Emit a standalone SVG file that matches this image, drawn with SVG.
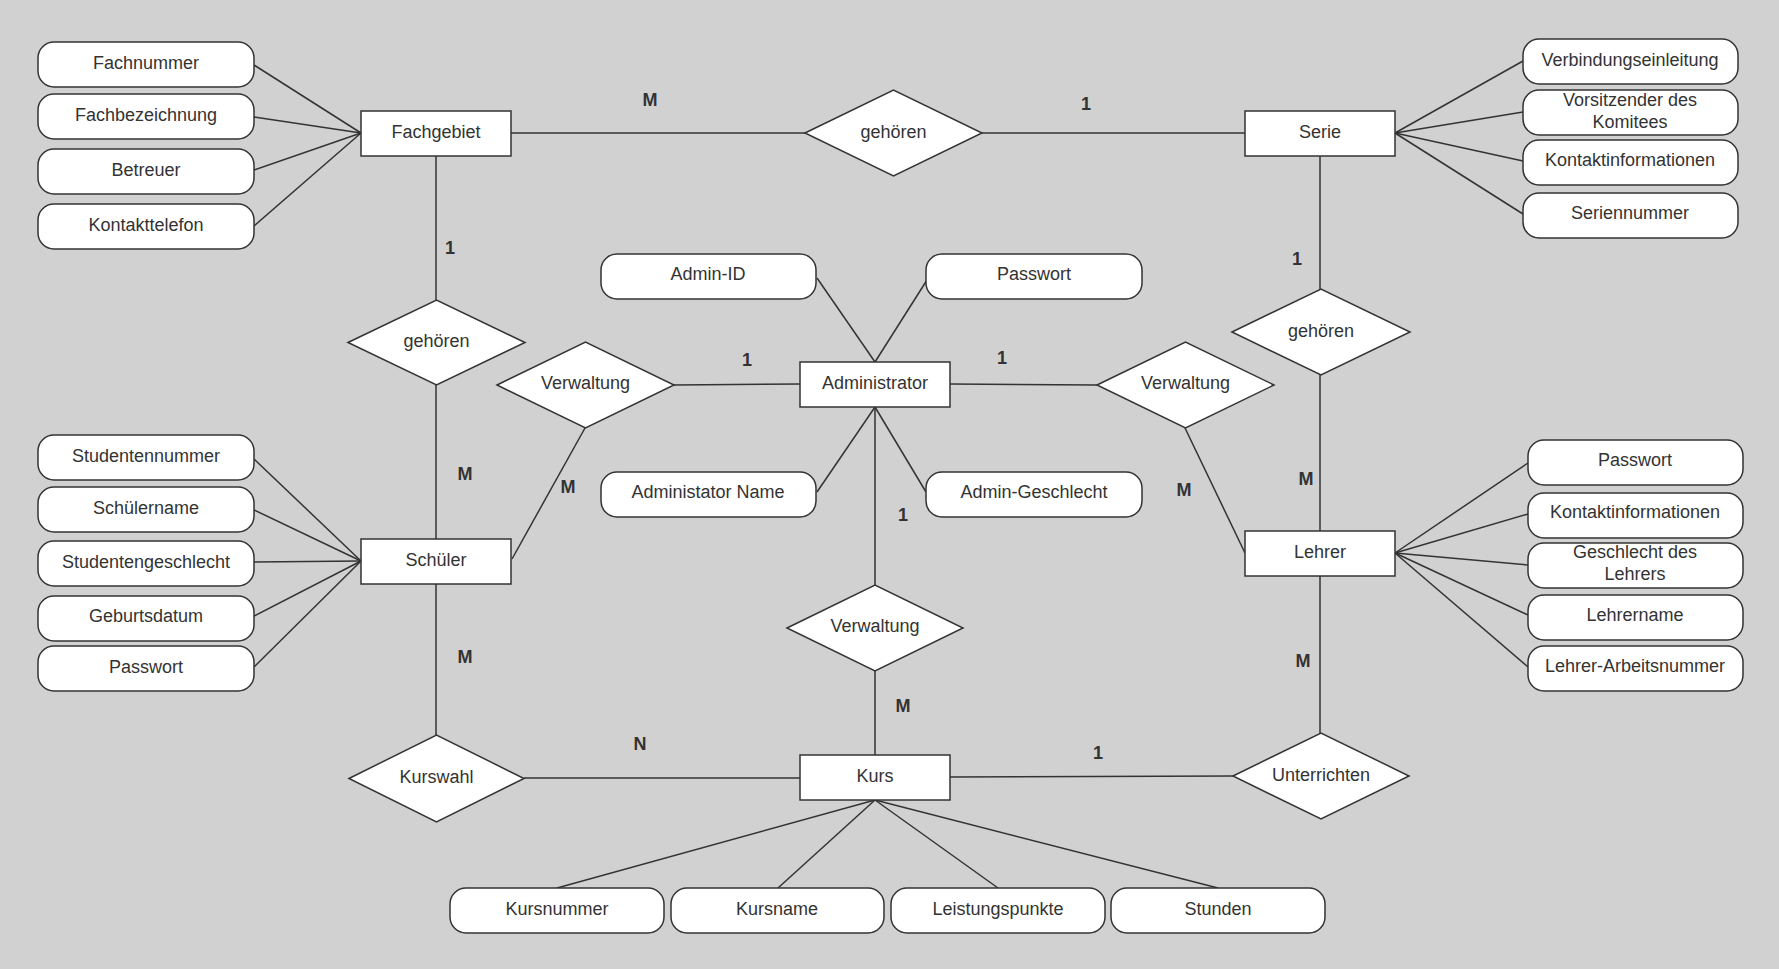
<svg xmlns="http://www.w3.org/2000/svg" width="1779" height="969" viewBox="0 0 1779 969">
<style>
  .bg{fill:#d1d1d1}
  .ent{fill:#fff;stroke:#333;stroke-width:1.5}
  .att{fill:#fff;stroke:#333;stroke-width:1.5}
  .rel{fill:#fff;stroke:#333;stroke-width:1.5}
  .ln{stroke:#333;stroke-width:1.5;fill:none}
  text{font-family:"Liberation Sans",Arial,sans-serif;font-size:18px;fill:#333;text-anchor:middle}
  .card{font-weight:bold}
</style>
<rect class="bg" x="0" y="0" width="1779" height="969"/>

<g id="connectors">
  <!-- Fachgebiet attributes -->
  <line class="ln" x1="254" y1="65" x2="361" y2="133"/>
  <line class="ln" x1="254" y1="117" x2="361" y2="133"/>
  <line class="ln" x1="254" y1="170" x2="361" y2="133"/>
  <line class="ln" x1="254" y1="226" x2="361" y2="133"/>
  <!-- Serie attributes -->
  <line class="ln" x1="1395" y1="133" x2="1523" y2="61"/>
  <line class="ln" x1="1395" y1="133" x2="1523" y2="112"/>
  <line class="ln" x1="1395" y1="133" x2="1523" y2="161"/>
  <line class="ln" x1="1395" y1="133" x2="1523" y2="214"/>
  <!-- Schüler attributes -->
  <line class="ln" x1="254" y1="459" x2="361" y2="561"/>
  <line class="ln" x1="254" y1="510" x2="361" y2="561"/>
  <line class="ln" x1="254" y1="562" x2="361" y2="561"/>
  <line class="ln" x1="254" y1="616" x2="361" y2="561"/>
  <line class="ln" x1="254" y1="667" x2="361" y2="561"/>
  <!-- Lehrer attributes -->
  <line class="ln" x1="1395" y1="553" x2="1528" y2="463"/>
  <line class="ln" x1="1395" y1="553" x2="1528" y2="514"/>
  <line class="ln" x1="1395" y1="553" x2="1528" y2="565"/>
  <line class="ln" x1="1395" y1="553" x2="1528" y2="615"/>
  <line class="ln" x1="1395" y1="553" x2="1528" y2="667"/>
  <!-- Administrator attributes -->
  <line class="ln" x1="817" y1="278" x2="875" y2="362"/>
  <line class="ln" x1="927" y1="280" x2="875" y2="362"/>
  <line class="ln" x1="817" y1="492" x2="875" y2="407"/>
  <line class="ln" x1="926" y1="492" x2="875" y2="407"/>
  <!-- Kurs attributes -->
  <line class="ln" x1="875" y1="800" x2="557" y2="888"/>
  <line class="ln" x1="875" y1="800" x2="778" y2="888"/>
  <line class="ln" x1="875" y1="800" x2="998" y2="888"/>
  <line class="ln" x1="875" y1="800" x2="1218" y2="888"/>
  <!-- Relationships -->
  <line class="ln" x1="511" y1="133" x2="805" y2="133"/>
  <line class="ln" x1="982" y1="133" x2="1245" y2="133"/>
  <line class="ln" x1="436" y1="156" x2="436" y2="300"/>
  <line class="ln" x1="436" y1="385" x2="436" y2="539"/>
  <line class="ln" x1="436" y1="584" x2="436" y2="735"/>
  <line class="ln" x1="1320" y1="156" x2="1320" y2="289"/>
  <line class="ln" x1="1320" y1="375" x2="1320" y2="531"/>
  <line class="ln" x1="1320" y1="576" x2="1320" y2="733"/>
  <line class="ln" x1="674" y1="385" x2="800" y2="384"/>
  <line class="ln" x1="950" y1="384" x2="1097" y2="385"/>
  <line class="ln" x1="585" y1="428" x2="512" y2="559"/>
  <line class="ln" x1="1185" y1="428" x2="1245" y2="553"/>
  <line class="ln" x1="875" y1="407" x2="875" y2="585"/>
  <line class="ln" x1="875" y1="671" x2="875" y2="755"/>
  <line class="ln" x1="524" y1="778" x2="800" y2="778"/>
  <line class="ln" x1="950" y1="777" x2="1233" y2="776"/>
</g>

<g id="labels">
  <text class="card" x="650" y="106">M</text>
  <text class="card" x="1086" y="110">1</text>
  <text class="card" x="450" y="254">1</text>
  <text class="card" x="1297" y="265">1</text>
  <text class="card" x="465" y="480">M</text>
  <text class="card" x="568" y="493">M</text>
  <text class="card" x="465" y="663">M</text>
  <text class="card" x="747" y="366">1</text>
  <text class="card" x="1002" y="364">1</text>
  <text class="card" x="903" y="521">1</text>
  <text class="card" x="903" y="712">M</text>
  <text class="card" x="1184" y="496">M</text>
  <text class="card" x="1306" y="485">M</text>
  <text class="card" x="1303" y="667">M</text>
  <text class="card" x="640" y="750">N</text>
  <text class="card" x="1098" y="759">1</text>
</g>

<!-- Entities -->
<g id="Fachgebiet"><rect class="ent" x="361" y="111" width="150" height="45"/><text x="436" y="138">Fachgebiet</text></g>
<g id="Serie"><rect class="ent" x="1245" y="111" width="150" height="45"/><text x="1320" y="138">Serie</text></g>
<g id="Schueler"><rect class="ent" x="361" y="539" width="150" height="45"/><text x="436" y="566">Schüler</text></g>
<g id="Administrator"><rect class="ent" x="800" y="362" width="150" height="45"/><text x="875" y="389">Administrator</text></g>
<g id="Lehrer"><rect class="ent" x="1245" y="531" width="150" height="45"/><text x="1320" y="558">Lehrer</text></g>
<g id="Kurs"><rect class="ent" x="800" y="755" width="150" height="45"/><text x="875" y="782">Kurs</text></g>

<!-- Relationships -->
<g id="rel-gehoeren-top"><polygon class="rel" points="805,133 893.5,90 982,133 893.5,176"/><text x="893.5" y="138">gehören</text></g>
<g id="rel-gehoeren-left"><polygon class="rel" points="348,342.5 436.5,300 525,342.5 436.5,385"/><text x="436.5" y="347">gehören</text></g>
<g id="rel-gehoeren-right"><polygon class="rel" points="1232,332 1321,289 1410,332 1321,375"/><text x="1321" y="337">gehören</text></g>
<g id="rel-verwaltung-left"><polygon class="rel" points="497,385 585.5,342 674,385 585.5,428"/><text x="585.5" y="389">Verwaltung</text></g>
<g id="rel-verwaltung-right"><polygon class="rel" points="1097,385 1185.5,342 1274,385 1185.5,428"/><text x="1185.5" y="389">Verwaltung</text></g>
<g id="rel-verwaltung-center"><polygon class="rel" points="787,628 875,585 963,628 875,671"/><text x="875" y="632">Verwaltung</text></g>
<g id="rel-kurswahl"><polygon class="rel" points="349,778.5 436.5,735 524,778.5 436.5,822"/><text x="436.5" y="783">Kurswahl</text></g>
<g id="rel-unterrichten"><polygon class="rel" points="1233,776 1321,733 1409,776 1321,819"/><text x="1321" y="781">Unterrichten</text></g>

<!-- Fachgebiet attributes -->
<g id="att-fachnummer"><rect class="att" x="38" y="42" width="216" height="45" rx="16"/><text x="146" y="69">Fachnummer</text></g>
<g id="att-fachbezeichnung"><rect class="att" x="38" y="94" width="216" height="45" rx="16"/><text x="146" y="121">Fachbezeichnung</text></g>
<g id="att-betreuer"><rect class="att" x="38" y="149" width="216" height="45" rx="16"/><text x="146" y="176">Betreuer</text></g>
<g id="att-kontakttelefon"><rect class="att" x="38" y="204" width="216" height="45" rx="16"/><text x="146" y="231">Kontakttelefon</text></g>

<!-- Serie attributes -->
<g id="att-verbindungseinleitung"><rect class="att" x="1523" y="39" width="215" height="45" rx="16"/><text x="1630" y="66">Verbindungseinleitung</text></g>
<g id="att-vorsitzender"><rect class="att" x="1523" y="90" width="215" height="45" rx="16"/><text x="1630" y="106">Vorsitzender des</text><text x="1630" y="128">Komitees</text></g>
<g id="att-serie-kontakt"><rect class="att" x="1523" y="140" width="215" height="45" rx="16"/><text x="1630" y="166">Kontaktinformationen</text></g>
<g id="att-seriennummer"><rect class="att" x="1523" y="193" width="215" height="45" rx="16"/><text x="1630" y="219">Seriennummer</text></g>

<!-- Admin attributes -->
<g id="att-admin-id"><rect class="att" x="601" y="254" width="215" height="45" rx="16"/><text x="708" y="280">Admin-ID</text></g>
<g id="att-admin-passwort"><rect class="att" x="926" y="254" width="216" height="45" rx="16"/><text x="1034" y="280">Passwort</text></g>
<g id="att-admin-name"><rect class="att" x="601" y="472" width="215" height="45" rx="16"/><text x="708" y="498">Administator Name</text></g>
<g id="att-admin-geschlecht"><rect class="att" x="926" y="472" width="216" height="45" rx="16"/><text x="1034" y="498">Admin-Geschlecht</text></g>

<!-- Schüler attributes -->
<g id="att-studentennummer"><rect class="att" x="38" y="435" width="216" height="45" rx="16"/><text x="146" y="462">Studentennummer</text></g>
<g id="att-schuelername"><rect class="att" x="38" y="487" width="216" height="45" rx="16"/><text x="146" y="514">Schülername</text></g>
<g id="att-studentengeschlecht"><rect class="att" x="38" y="541" width="216" height="45" rx="16"/><text x="146" y="568">Studentengeschlecht</text></g>
<g id="att-geburtsdatum"><rect class="att" x="38" y="596" width="216" height="45" rx="16"/><text x="146" y="622">Geburtsdatum</text></g>
<g id="att-schueler-passwort"><rect class="att" x="38" y="646" width="216" height="45" rx="16"/><text x="146" y="673">Passwort</text></g>

<!-- Lehrer attributes -->
<g id="att-lehrer-passwort"><rect class="att" x="1528" y="440" width="215" height="45" rx="16"/><text x="1635" y="466">Passwort</text></g>
<g id="att-lehrer-kontakt"><rect class="att" x="1528" y="493" width="215" height="45" rx="16"/><text x="1635" y="518">Kontaktinformationen</text></g>
<g id="att-lehrer-geschlecht"><rect class="att" x="1528" y="543" width="215" height="45" rx="16"/><text x="1635" y="558">Geschlecht des</text><text x="1635" y="580">Lehrers</text></g>
<g id="att-lehrername"><rect class="att" x="1528" y="595" width="215" height="45" rx="16"/><text x="1635" y="621">Lehrername</text></g>
<g id="att-lehrer-arbeitsnummer"><rect class="att" x="1528" y="646" width="215" height="45" rx="16"/><text x="1635" y="672">Lehrer-Arbeitsnummer</text></g>

<!-- Kurs attributes -->
<g id="att-kursnummer"><rect class="att" x="450" y="888" width="214" height="45" rx="16"/><text x="557" y="915">Kursnummer</text></g>
<g id="att-kursname"><rect class="att" x="671" y="888" width="213" height="45" rx="16"/><text x="777" y="915">Kursname</text></g>
<g id="att-leistungspunkte"><rect class="att" x="891" y="888" width="214" height="45" rx="16"/><text x="998" y="915">Leistungspunkte</text></g>
<g id="att-stunden"><rect class="att" x="1111" y="888" width="214" height="45" rx="16"/><text x="1218" y="915">Stunden</text></g>
</svg>
